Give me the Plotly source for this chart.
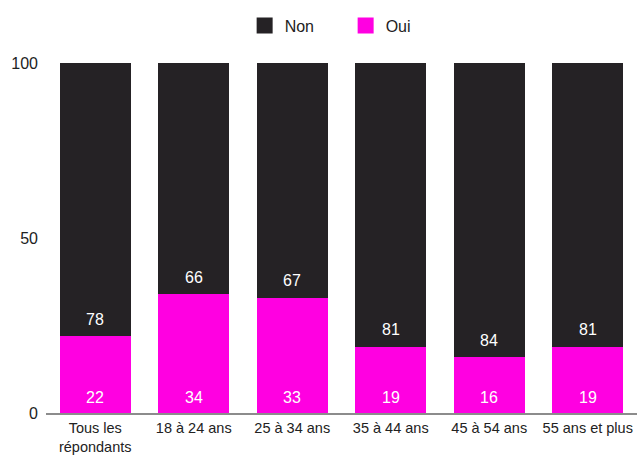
import plotly.graph_objects as go

categories = ["Tous les<br>répondants", "18 à 24 ans", "25 à 34 ans", "35 à 44 ans", "45 à 54 ans", "55 ans et plus"]
oui = [22, 34, 33, 19, 16, 19]
non = [78, 66, 67, 81, 84, 81]
y_ticks = [0, 50, 100]

C_NON = "#252225"
C_OUI = "#ff00e1"
FONT = "Liberation Sans, Arial, Helvetica, sans-serif"

fig = go.Figure()
fig.add_trace(go.Bar(x=categories, y=oui, name="Oui", marker=dict(color=C_OUI, line=dict(width=0)),
                     showlegend=False))
fig.add_trace(go.Bar(x=categories, y=non, name="Non", marker=dict(color=C_NON, line=dict(width=0)),
                     showlegend=False))

# legend proxies (square markers)
fig.add_trace(go.Scatter(x=[None], y=[None], mode="markers", name="Non",
                         marker=dict(symbol="square", size=18, color=C_NON)))
fig.add_trace(go.Scatter(x=[None], y=[None], mode="markers", name="Oui",
                         marker=dict(symbol="square", size=18, color=C_OUI)))

annotations = []
for c, o, n in zip(categories, oui, non):
    annotations.append(dict(x=c, y=0, text=str(o), showarrow=False, yanchor="middle",
                            yshift=16, font=dict(color="white", size=16, family=FONT)))
    annotations.append(dict(x=c, y=o, text=str(n), showarrow=False, yanchor="middle",
                            yshift=17, font=dict(color="white", size=16, family=FONT)))

fig.update_layout(
    width=637, height=455,
    barmode="stack", bargap=0.284,
    plot_bgcolor="white", paper_bgcolor="white",
    margin=dict(l=46, r=0, t=63, b=42),
    font=dict(family=FONT, color="#222222"),
    annotations=annotations,
    legend=dict(orientation="h", traceorder="normal", x=0.507, xanchor="center", y=1.107,
                yanchor="middle", font=dict(size=16, color="#222222"),
                entrywidth=56, entrywidthmode="pixels"),
    xaxis=dict(showgrid=False, showline=True, linecolor="#8c8c8c", linewidth=2,
               tickfont=dict(size=14.5, color="#222222"), ticks="", ticklabelstandoff=1,
               automargin=False),
    yaxis=dict(range=[0, 100], tickvals=y_ticks, showgrid=False, zeroline=False,
               showline=False, tickfont=dict(size=16, color="#222222"), ticks="",
               ticklabelstandoff=7, automargin=False),
)

fig.write_html("out.html")
